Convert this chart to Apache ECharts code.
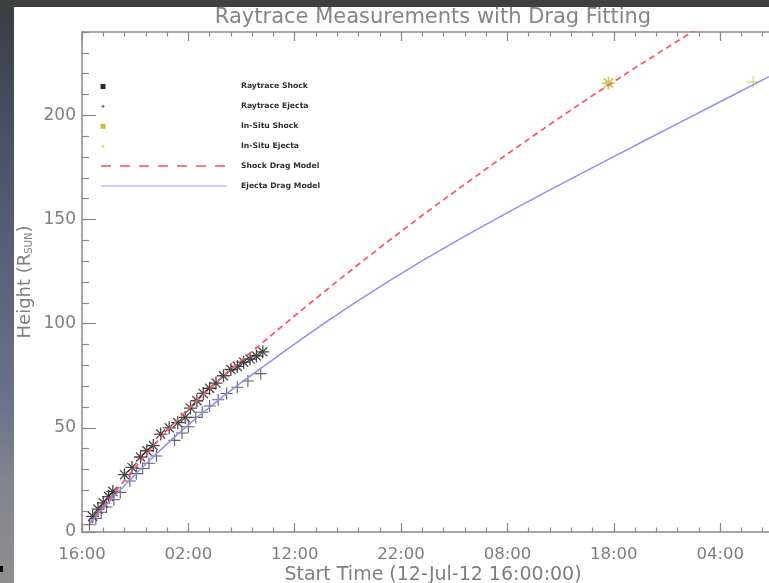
<!DOCTYPE html>
<html>
<head>
<meta charset="utf-8">
<title>Raytrace Measurements with Drag Fitting</title>
<script src="https://cdn.jsdelivr.net/npm/echarts@6/dist/echarts.min.js"></script>
<style>
  html, body { margin: 0; padding: 0; background: #404040; }
  #wrap { position: relative; width: 769px; height: 583px; overflow: hidden; background: #404040; }
  #strip { position: absolute; left: 0; top: 7px; width: 14px; height: 576px;
           background: linear-gradient(#3b3d44 0%, #4a5166 22%, #5a6480 48%, #6a7189 68%, #84868e 84%, #8e8e8e 100%); }
  #mark { position: absolute; left: 0; top: 566px; width: 3px; height: 6px; background: #000; }
  #panel { position: absolute; left: 14px; top: 7px; width: 755px; height: 576px; background: #fff; }
  #chart { position: absolute; left: 0; top: 0; width: 769px; height: 583px; }
</style>
</head>
<body>
<div id="wrap">
  <div id="strip"></div>
  <div id="mark"></div>
  <div id="panel"></div>
  <div id="chart"></div>
</div>
<script>
// Hours after 12-Jul-12 16:00:00 UT, heights in solar radii.

// Raytrace measurements of the shock front
const shockHours   = [1.0, 1.5, 2.0, 2.5, 2.9, 4.0, 4.7, 5.5, 6.1, 6.7, 7.4, 8.2, 9.0, 9.7, 10.2, 10.8, 11.4, 12.0, 12.6, 13.3, 14.0, 14.6, 15.2, 15.8, 16.4, 17.0];
const shockHeights = [7.5, 11.0, 14.0, 17.0, 19.5, 27.5, 31.0, 36.0, 39.0, 41.5, 47.0, 50.0, 52.5, 55.0, 59.5, 63.0, 66.5, 69.0, 71.5, 75.0, 78.0, 79.5, 81.5, 83.0, 84.5, 86.5];

// Raytrace measurements of the ejecta
const ejectaHours   = [0.7, 1.3, 1.8, 2.3, 3.0, 3.6, 4.5, 5.1, 5.7, 6.3, 7.0, 8.7, 9.4, 10.0, 10.7, 11.3, 12.0, 12.8, 13.6, 14.6, 15.6, 16.8];
const ejectaHeights = [3.5, 6.5, 9.5, 12.0, 15.5, 19.0, 24.5, 28.0, 30.5, 33.0, 36.5, 44.0, 47.5, 50.5, 55.0, 57.5, 60.5, 63.5, 66.5, 69.5, 72.5, 76.0];

// In-situ arrivals at 1 AU
const insituShockHours = [49.5];
const insituShockHeights = [215.5];
const insituEjectaHours = [63.1];
const insituEjectaHeights = [216.0];

// Drag-model fits
const shockModelHours   = [0.75, 3, 5, 7, 9, 11, 13, 15, 17, 20, 23, 26, 29, 32, 36, 40, 44, 48, 52, 56, 58];
const shockModelHeights = [4.5, 18.5, 31, 43, 54, 64, 73.5, 82.5, 91, 103.8, 116.3, 128.5, 140.4, 152, 167, 181.5, 195.7, 209.5, 222.8, 235.7, 242];
const ejectaModelHours   = [0.75, 3, 5, 7, 9, 11, 13, 15, 17, 20, 23, 26, 29, 32, 36, 40, 44, 48, 52, 56, 60, 64, 66];
const ejectaModelHeights = [4.2, 17.0, 27.6, 37.6, 47.0, 55.8, 64.0, 71.8, 79.3, 90.3, 101.0, 111.2, 120.9, 130.3, 142.0, 153.3, 164.2, 174.9, 185.5, 196.0, 206.5, 217.0, 222.2];

// Bottom-axis labels, one per 10 hours
const timeTickLabels = ['16:00', '02:00', '12:00', '22:00', '08:00', '18:00', '04:00'];

const legendLabels = ['Raytrace Shock', 'Raytrace Ejecta', 'In-Situ Shock', 'In-Situ Ejecta', 'Shock Drag Model', 'Ejecta Drag Model'];

const zip = (xs, ys) => xs.map((x, i) => [x, ys[i]]);

const AXIS = '#8a8a8a';
const TEXT = '#7e7e7e';
const FONT = '"DejaVu Sans", sans-serif';
const SHOCK_RED = '#ff5a66';
const EJECTA_BLUE = '#8e8ef6';
const INSITU = '#c2bb3c';

const ASTERISK = 'path://M0,6L12,6M6,0L6,12M1.8,1.8L10.2,10.2M10.2,1.8L1.8,10.2';
const PLUS = 'path://M0,6L12,6M6,0L6,12';

function xAxisLayer(position, interval, tickLen, withLabels) {
  const ax = {
    type: 'value', min: 0, max: 66, interval: interval, position: position,
    axisLine: { show: interval === 10, onZero: false, lineStyle: { color: AXIS, width: 1.5 } },
    axisTick: { show: true, inside: true, length: tickLen, lineStyle: { color: AXIS, width: 1.2 } },
    splitLine: { show: false },
    axisLabel: { show: false }
  };
  if (withLabels) {
    ax.axisLabel = {
      show: true, margin: 14, color: TEXT, fontFamily: FONT, fontSize: 16.5,
      showMaxLabel: false,
      formatter: v => (v % 10 === 0 ? (timeTickLabels[v / 10] || '') : '')
    };
    ax.name = 'Start Time (12-Jul-12 16:00:00)';
    ax.nameLocation = 'middle';
    ax.nameGap = 34;
    ax.nameMoveOverlap = false;
    ax.nameTextStyle = { color: TEXT, fontFamily: FONT, fontSize: 19 };
  }
  return ax;
}

function yAxisLayer(interval, tickLen, withLabels) {
  const ax = {
    type: 'value', min: 0, max: 240, interval: interval, position: 'left',
    axisLine: { show: interval === 50, onZero: false, lineStyle: { color: AXIS, width: 1.5 } },
    axisTick: { show: true, inside: true, length: tickLen, lineStyle: { color: AXIS, width: 1.2 } },
    splitLine: { show: false },
    axisLabel: { show: false }
  };
  if (withLabels) {
    ax.axisLabel = { show: true, margin: 6, color: TEXT, fontFamily: FONT, fontSize: 17, showMaxLabel: false };
    ax.name = 'Height (R{sub|SUN})';
    ax.nameLocation = 'middle';
    ax.nameGap = 48;
    ax.nameMoveOverlap = false;
    ax.nameTextStyle = {
      color: TEXT, fontFamily: FONT, fontSize: 18,
      rich: { sub: { color: TEXT, fontFamily: FONT, fontSize: 10, verticalAlign: 'bottom', lineHeight: 14 } }
    };
  }
  return ax;
}

// Legend drawn at the upper left of the plot
const legendX = 103, legendTextX = 241, legendY0 = 86.5, legendDy = 19.9;
const legendGraphics = [];
legendLabels.forEach((label, i) => {
  legendGraphics.push({
    type: 'text', x: legendTextX, y: legendY0 + i * legendDy, z: 100,
    style: { text: label, fill: '#2e2e2e', font: 'bold 7.7px "DejaVu Sans", sans-serif', verticalAlign: 'middle' }
  });
});
const ly = i => legendY0 + i * legendDy;
legendGraphics.push(
  { type: 'rect', z: 100, shape: { x: legendX - 2.5, y: ly(0) - 2.5, width: 5, height: 5 }, style: { fill: '#2a2a2a' } },
  { type: 'line', z: 100, shape: { x1: legendX - 1.5, y1: ly(1), x2: legendX + 1.5, y2: ly(1) }, style: { stroke: '#555', lineWidth: 1 } },
  { type: 'line', z: 100, shape: { x1: legendX, y1: ly(1) - 1.5, x2: legendX, y2: ly(1) + 1.5 }, style: { stroke: '#555', lineWidth: 1 } },
  { type: 'rect', z: 100, shape: { x: legendX - 2.5, y: ly(2) - 2.5, width: 5, height: 5 }, style: { fill: '#c4bd3a' } },
  { type: 'line', z: 100, shape: { x1: legendX - 1.5, y1: ly(3), x2: legendX + 1.5, y2: ly(3) }, style: { stroke: '#cfc850', lineWidth: 1 } },
  { type: 'line', z: 100, shape: { x1: legendX, y1: ly(3) - 1.5, x2: legendX, y2: ly(3) + 1.5 }, style: { stroke: '#cfc850', lineWidth: 1 } },
  { type: 'line', z: 100, shape: { x1: 101, y1: ly(4), x2: 227, y2: ly(4) }, style: { stroke: '#ff7a80', lineWidth: 2, lineDash: [10, 9] } },
  { type: 'line', z: 100, shape: { x1: 101, y1: ly(5), x2: 227, y2: ly(5) }, style: { stroke: '#9a9af8', lineWidth: 1.2 } }
);

const chart = echarts.init(document.getElementById('chart'), null, { renderer: 'canvas' });
chart.setOption({
  backgroundColor: 'transparent',
  animation: false,
  title: {
    text: 'Raytrace Measurements with Drag Fitting',
    left: 433, top: 7, padding: 0, textAlign: 'center',
    textStyle: { color: '#858585', fontFamily: FONT, fontSize: 21, fontWeight: 'normal' }
  },
  grid: { left: 82, top: 32, right: -15, bottom: 51, containLabel: false, outerBoundsMode: 'none' },
  xAxis: [
    xAxisLayer('bottom', 10, 9, true),
    xAxisLayer('bottom', 2, 4.5, false),
    xAxisLayer('top', 10, 9, false),
    xAxisLayer('top', 2, 4.5, false)
  ],
  yAxis: [
    yAxisLayer(50, 14, true),
    yAxisLayer(10, 7, false)
  ],
  graphic: legendGraphics,
  series: [
    {
      name: 'Raytrace Shock', type: 'scatter', xAxisIndex: 0, yAxisIndex: 0,
      data: zip(shockHours, shockHeights), symbol: ASTERISK, symbolSize: 13,
      itemStyle: { color: 'transparent', borderColor: '#1a1a1a', borderWidth: 1.3 }
    },
    {
      name: 'Raytrace Ejecta', type: 'scatter', xAxisIndex: 0, yAxisIndex: 0,
      data: zip(ejectaHours, ejectaHeights), symbol: PLUS, symbolSize: 12,
      itemStyle: { color: 'transparent', borderColor: '#3a3a3a', borderWidth: 1.1 }
    },
    {
      name: 'In-Situ Shock', type: 'scatter', xAxisIndex: 0, yAxisIndex: 0,
      data: zip(insituShockHours, insituShockHeights), symbol: ASTERISK, symbolSize: 13,
      itemStyle: { color: 'transparent', borderColor: INSITU, borderWidth: 1.8 }
    },
    {
      name: 'In-Situ Ejecta', type: 'scatter', xAxisIndex: 0, yAxisIndex: 0,
      data: zip(insituEjectaHours, insituEjectaHeights), symbol: PLUS, symbolSize: 12,
      itemStyle: { color: 'transparent', borderColor: '#d2cc5a', borderWidth: 1.3 }
    },
    {
      name: 'Shock Drag Model', type: 'line', xAxisIndex: 0, yAxisIndex: 0,
      data: zip(shockModelHours, shockModelHeights), showSymbol: false, smooth: false,
      lineStyle: { color: SHOCK_RED, width: 1.8, type: [6, 4] }
    },
    {
      name: 'Ejecta Drag Model', type: 'line', xAxisIndex: 0, yAxisIndex: 0,
      data: zip(ejectaModelHours, ejectaModelHeights), showSymbol: false, smooth: false,
      lineStyle: { color: EJECTA_BLUE, width: 1.5 }
    }
  ]
});
</script>
</body>
</html>
